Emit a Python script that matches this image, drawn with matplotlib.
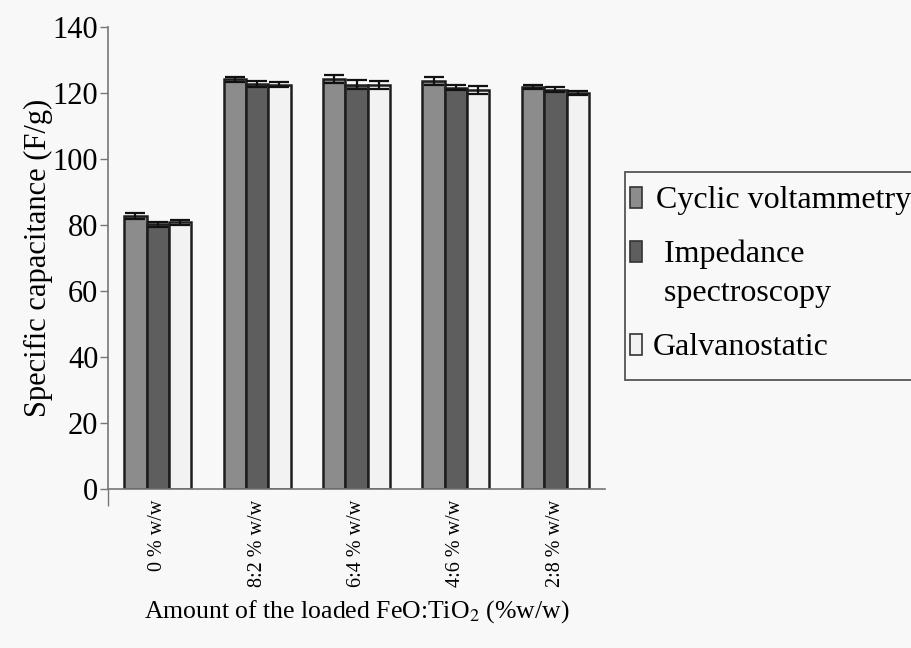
import numpy as np
import matplotlib
matplotlib.use("Agg")
import matplotlib.pyplot as plt
from matplotlib.patches import Rectangle

plt.rcParams['font.family'] = ['Liberation Serif', 'DejaVu Serif']
plt.rcParams['mathtext.fontset'] = 'stix'

# Specific capacitance (F/g) for each FeO:TiO2 loading, by method
loadings = ["0 % w/w", "8:2 % w/w", "6:4 % w/w", "4:6 % w/w", "2:8 % w/w"]
methods = ["Cyclic voltammetry", " Impedance\n spectroscopy", "Galvanostatic"]
cv = [82.8, 124.2, 124.3, 123.6, 121.9]
cv_err = [0.8, 0.8, 1.3, 1.2, 0.7]
eis = [80.2, 122.8, 122.6, 121.7, 121.1]
eis_err = [0.8, 0.9, 1.3, 0.8, 0.8]
gcd = [80.9, 122.6, 122.6, 121.0, 120.1]
gcd_err = [0.8, 0.8, 1.2, 1.3, 0.7]

colors = ["#8c8c8c", "#5e5e5e", "#f2f2f2"]
bg = "#f8f8f8"
W, H = 912, 648

fig = plt.figure(figsize=(9.12, 6.48), dpi=100, facecolor=bg)
ax = fig.add_axes([0.1184, 0.2454, 0.545, 0.7126])
ax.set_facecolor(bg)

x = np.arange(len(loadings))
w = 0.225
for i, (vals, errs) in enumerate([(cv, cv_err), (eis, eis_err), (gcd, gcd_err)]):
    ax.bar(x + (i - 1) * w, vals, w, yerr=errs, color=colors[i],
           edgecolor="#1e1e1e", linewidth=1.8,
           error_kw=dict(ecolor="#111111", elinewidth=1.6, capsize=7.5, capthick=1.6))

ax.set_xlim(-0.5, len(loadings) - 0.5)
ax.set_ylim(0, 140)
ax.set_yticks(np.arange(0, 141, 20))
ax.set_xticks(x)
ax.set_xticklabels(loadings, rotation=90, fontsize=14.5)
ax.tick_params(axis='x', length=0, pad=8)
ax.tick_params(axis='y', direction='out', length=6, width=1, labelsize=22,
               color="#777777", pad=1)
ax.set_xticks([-0.5], minor=True)
ax.tick_params(axis='x', which='minor', length=12, width=1, color="#777777")

for s in ["top", "right"]:
    ax.spines[s].set_visible(False)
for s in ["left", "bottom"]:
    ax.spines[s].set_color("#777777")
    ax.spines[s].set_linewidth(1.2)

ax.set_ylabel("Specific capacitance (F/g)", fontsize=22, labelpad=0)
ax.set_xlabel("Amount of the loaded FeO:TiO$_2$ (%w/w)", fontsize=18.5, labelpad=8)

# legend box, running off the right edge of the figure
fig.patches.append(Rectangle((625 / W, 1 - 380 / H), 300 / W, 208 / H,
                             transform=fig.transFigure, facecolor=bg,
                             edgecolor="#555555", linewidth=1.3))
baselines = [208, 262, 355]     # baseline of the first text line, pixels from top
text_x = [656, 656, 653]
for c, label, by, tx in zip(colors, methods, baselines, text_x):
    fig.patches.append(Rectangle((630 / W, 1 - by / H), 12 / W, 21 / H,
                                 transform=fig.transFigure, facecolor=c,
                                 edgecolor="#333333", linewidth=1.2))
    for k, line in enumerate(label.split("\n")):
        fig.text(tx / W, 1 - (by + 39 * k) / H, line, fontsize=23,
                 va="baseline", ha="left")

fig.savefig("out.png", dpi=100, facecolor=bg)
